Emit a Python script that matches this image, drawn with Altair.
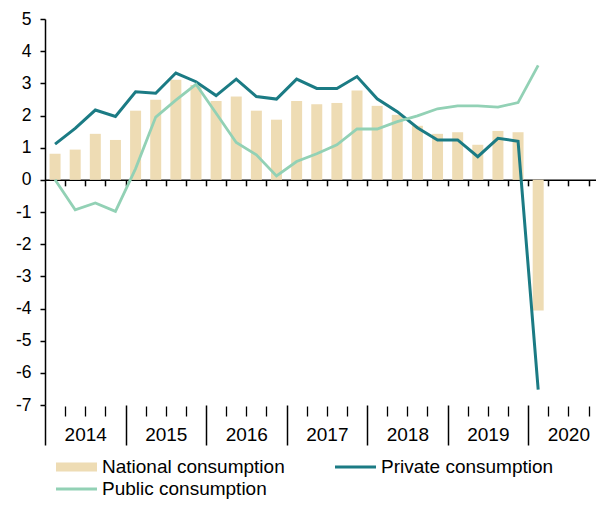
import altair as alt
import pandas as pd
import json

# ---------------- data ----------------
years = ["2014", "2015", "2016", "2017", "2018", "2019", "2020"]
n_quarters = 28  # 2014Q1 .. 2020Q4 on the axis
national = [0.81, 0.94, 1.43, 1.24,
            2.15, 2.49, 3.11, 2.95,
            2.45, 2.59, 2.15, 1.87,
            2.45, 2.35, 2.39, 2.78,
            2.30, 2.02, 1.68, 1.43,
            1.48, 1.09, 1.52, 1.48,
            -4.06]
private = [1.11, 1.60, 2.17, 1.97,
           2.74, 2.69, 3.32, 3.05,
           2.62, 3.13, 2.59, 2.51,
           3.13, 2.84, 2.84, 3.21,
           2.52, 2.12, 1.62, 1.24,
           1.24, 0.72, 1.29, 1.20,
           -6.52]
public = [0.00, -0.93, -0.72, -0.98,
          0.35, 1.95, 2.48, 2.97,
          2.07, 1.16, 0.78, 0.12,
          0.57, 0.81, 1.09, 1.58,
          1.58, 1.81, 1.99, 2.21,
          2.30, 2.30, 2.26, 2.40,
          3.56]
series_names = ["National consumption", "Private consumption", "Public consumption"]
y_ticks = list(range(-7, 6))

# ---------------- styling ----------------
C_NAT = "#EEDCB4"
C_PRI = "#1B7B84"
C_PUB = "#92D1B5"
FONT = "Liberation Sans"

W = 551           # visible plot width (quarter = ~20.1 px)
H = 386
QPX = 20.13       # pixel width of one quarter
x_max = W / QPX
y_min, y_max = -7, 5

df = pd.DataFrame({
    "xc": [i + 0.5 for i in range(len(national))],
    "national": national,
    "private": private,
    "public": public,
})

x_scale = alt.Scale(domain=[0, x_max], nice=False, zero=False, padding=0)
y_scale = alt.Scale(domain=[y_min, y_max], nice=False, zero=False, padding=0)
zero_offset = -(H * (0 - y_min) / (y_max - y_min))

years_js = json.dumps(years)

bars = alt.Chart(df).mark_bar(size=11, color=C_NAT).encode(
    x=alt.X("xc:Q", scale=x_scale,
            axis=alt.Axis(orient="bottom", offset=zero_offset,
                          values=list(range(1, n_quarters)), labels=False,
                          tickSize=6, tickColor="black", tickWidth=1.5,
                          domainColor="black", domainWidth=1.5,
                          grid=False, title=None)),
    y=alt.Y("national:Q", scale=y_scale,
            axis=alt.Axis(values=y_ticks, tickSize=5, tickColor="black",
                          tickWidth=1.5, domainColor="black", domainWidth=1.5,
                          labelExpr="'' + datum.value",
                          labelFont=FONT, labelFontSize=17.5, labelColor="black",
                          labelPadding=9, grid=False, title=None)),
)

private_line = alt.Chart(df).mark_line(color=C_PRI, strokeWidth=3).encode(
    x=alt.X("xc:Q", scale=x_scale,
            axis=alt.Axis(orient="bottom", offset=1,
                          values=[q for q in range(1, n_quarters) if q % 4 != 0],
                          labelExpr=f"datum.value % 4 == 2 ? {years_js}[(datum.value - 2) / 4] : ''",
                          tickSize=10, tickColor="black", tickWidth=1.3,
                          domain=False, grid=False, title=None,
                          labelFont=FONT, labelFontSize=19, labelColor="black",
                          labelPadding=9, labelOverlap=False, labelFlush=False)),
    y=alt.Y("private:Q", scale=y_scale, axis=None),
)

public_line = alt.Chart(df).mark_line(color=C_PUB, strokeWidth=2.8).encode(
    x=alt.X("xc:Q", scale=x_scale,
            axis=alt.Axis(orient="bottom", offset=0,
                          values=[q for q in range(0, n_quarters) if q % 4 == 0],
                          labels=False, tickSize=40, tickColor="black",
                          tickWidth=1.5, domain=False, grid=False, title=None)),
    y=alt.Y("public:Q", scale=y_scale, axis=None),
)

leg_df = pd.DataFrame({"series": series_names})
bar_path = "M-1,-0.22H1V0.22H-1Z"
line_path = "M-1,-0.075H1V0.075H-1Z"
legend_props = dict(
    orient="none", legendX=11, legendY=438, columns=2, direction="horizontal",
    title=None, symbolSize=41 * 41, symbolStrokeWidth=0, symbolOpacity=1,
    clipHeight=20, rowPadding=2, columnPadding=50, labelOffset=5, labelLimit=400,
    labelFont=FONT, labelFontSize=19, labelColor="black", padding=0,
)
legend_layer = alt.Chart(leg_df).mark_point(filled=True, opacity=0).encode(
    color=alt.Color("series:N",
                    scale=alt.Scale(domain=series_names, range=[C_NAT, C_PRI, C_PUB]),
                    legend=alt.Legend(**legend_props)),
    shape=alt.Shape("series:N",
                    scale=alt.Scale(domain=series_names, range=[bar_path, line_path, line_path]),
                    legend=alt.Legend(**legend_props)),
)

chart = alt.layer(bars, private_line, public_line, legend_layer).resolve_axis(
    x="independent", y="independent"
).properties(
    width=W, height=H,
    autosize=alt.AutoSizeParams(type="none"),
    padding={"left": 37, "top": 11, "right": 0, "bottom": 95},
    background="white",
).configure_view(stroke=None)

chart.save("out.html", embed_options={"renderer": "svg", "actions": False})
